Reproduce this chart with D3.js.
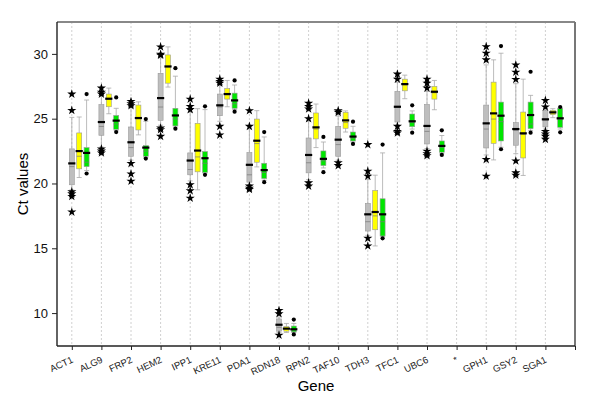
<!DOCTYPE html>
<html>
<head>
<meta charset="utf-8">
<script src="https://cdn.jsdelivr.net/npm/d3@7"></script>
<style>
  body { margin: 0; background: #fff; }
  text { font-family: "Liberation Sans", Arial, sans-serif; }
</style>
</head>
<body>
<div id="chart"></div>
<script>
// genes on the x axis (last slot is an empty one at the right border)
var genes = ['ACT1','ALG9','FRP2','HEM2','IPP1','KRE11','PDA1','RDN18','RPN2','TAF10','TDH3','TFC1','UBC6','*','GPH1','GSY2','SGA1',''];
var yTicks = [10, 15, 20, 25, 30];

// [lower whisker, q1, median, q3, upper whisker] per gene
var greyBoxes = [
  [19.5,19.9,21.55,22.67,25.1],[22.8,23.72,24.74,26.08,26.8],[21.8,22.1,23.18,24.36,25.9],[24.5,24.87,26.59,28.5,29.7],
  [20.2,20.67,21.77,22.36,25.5],[24.8,25.23,26.03,26.9,27.6],[19.9,20.1,21.44,22.38,24.2],[8.5,8.6,9.1,9.55,9.7],
  [20.3,20.82,22.2,23.51,24.8],[21.8,22.1,23.38,24.41,25.2],[16.0,16.33,17.62,18.46,20.3],[24.5,24.74,25.92,27.1,27.8],
  [22.7,23.05,24.44,26.1,27.1],null,[22.2,22.74,24.64,26.05,29.15],[22.3,22.95,24.2,24.69,27.7],[24.2,24.36,24.95,25.62,25.8],null];
var greyThin = [21.3,24.4,22.77,25.9,21.08,25.9,20.67,8.9,21.6,23.0,17.05,25.9,24.02,null,24.2,24.1,24.9,null];
var greyOutliers = [
  [26.9,25.64,19.36,19.2,19.0,17.8],[27.36,27.05,26.9,22.67,22.5,22.36],[26.33,26.15,26.0,21.54,20.74,20.18],[30.54,29.97,29.9,24.28,24.15,23.64],
  [26.51,25.95,25.7,19.9,19.44,18.87],[28.05,27.87,27.74,24.41,23.74],[25.62,24.41,19.8,19.64,19.54],[10.2,9.95,8.3],
  [26.2,25.95,25.75,25.0,20.05,19.8],[25.62,25.49,21.6,21.38],[23.0,20.95,20.56,15.77,15.18],[28.44,28.05,24.41,24.02,23.9],
  [28.05,27.74,27.36,22.49,22.3,22.15],[],[30.56,30.05,29.54,21.85,20.56],[29.15,28.59,28.03,21.74,20.82,20.64],[26.41,25.9,24.02,23.82,23.64,23.41],[]];

var yellowBoxes = [
  [20.46,21.13,22.5,23.9,25.13],[25.38,25.92,26.54,26.9,27.36],[23.75,24.13,25.05,26.05,26.3],[27.44,27.74,29.03,29.92,30.54],
  [19.51,20.9,22.54,24.64,25.77],[25.92,26.51,26.9,27.33,27.95],[21.28,21.64,23.3,24.97,25.62],[8.5,8.6,8.8,8.95,9.2],
  [22.77,23.44,24.33,25.44,26.13],[23.97,24.26,24.87,25.49,25.6],[15.18,16.43,17.8,19.46,20.64],[26.54,27.15,27.67,28.05,28.36],
  [25.69,26.51,27.08,27.49,27.95],null,[21.82,23.1,25.41,27.82,29.54],[20.62,21.97,23.87,25.51,28.05],[25.08,25.31,25.49,25.64,25.77],null];
var yellowThin = [22.1,26.5,25.0,29.0,22.05,26.85,23.08,8.8,24.2,24.7,17.5,27.6,27.0,null,24.97,23.8,25.45,null];

var greenBoxes = [
  [21.0,21.3,22.36,22.77,26.44],[24.1,24.18,24.85,25.25,25.8],[22.0,22.1,22.77,22.92,24.8],[24.35,24.44,25.25,25.8,28.28],
  [20.8,20.85,21.95,22.46,25.7],[25.7,25.8,26.41,26.97,27.6],[20.25,20.38,21.03,21.56,23.59],[8.5,8.55,8.75,9.0,9.2],
  [21.2,21.38,21.9,22.51,23.2],[23.2,23.28,23.62,23.97,24.41],[15.9,15.95,17.62,18.82,22.36],[24.2,24.38,24.8,25.36,25.6],
  [22.3,22.41,22.9,23.28,23.7],null,[22.8,23.28,25.23,26.28,30.05],[24.1,24.23,25.28,26.28,26.8],[24.2,24.33,25.03,25.8,25.85],null];
var greenThin = [21.64,24.59,22.5,24.97,21.56,26.15,20.85,8.7,21.75,23.5,17.05,24.7,22.8,null,24.77,24.59,24.95,null];
var greenOutliers = [
  [26.9,20.77],[26.64,23.97],[24.97,21.92],[28.9,24.23],[25.95,20.67],[27.95,25.54],[23.97,20.1],[9.5,8.35],
  [23.59,20.87],[24.77,23.05],[23.0,15.77],[26.03,23.92],[24.1,22.2],[],[30.6,22.64],[28.62,23.92],[25.9,23.95],[]];

var width = 600, height = 402;
var pLeft = 57, pRight = 575, pTop = 22, pBottom = 346;

var svg = d3.select('#chart').append('svg')
  .attr('width', width)
  .attr('height', height);

var step = (pRight - pLeft) / (genes.length - 0.5);
var x = d3.scalePoint()
  .domain(genes)
  .range([pLeft + step / 2, pRight]);

var y = d3.scaleLinear()
  .domain([7.46, 32.46])
  .range([pBottom, pTop]);

// dotted vertical guides
svg.append('g')
  .selectAll('line')
  .data(genes)
  .enter().append('line')
  .attr('x1', d => x(d)).attr('x2', d => x(d))
  .attr('y1', pTop).attr('y2', pBottom)
  .attr('stroke', '#d0d0d0')
  .attr('stroke-dasharray', '2,2');

var series = [
  {boxes: greyBoxes, thin: greyThin, out: greyOutliers, fill: '#bebebe', offset: 0, mark: 'star'},
  {boxes: yellowBoxes, thin: yellowThin, out: null, fill: '#ffff00', offset: 7.4, mark: 'dot'},
  {boxes: greenBoxes, thin: greenThin, out: greenOutliers, fill: '#00e600', offset: 14.8, mark: 'dot'}
];

var bw = 5;
var star = d3.symbol().type(d3.symbolStar).size(26);

series.forEach(function(s) {
  var g = svg.append('g');
  genes.forEach(function(gene, i) {
    var b = s.boxes[i];
    if (!b) return;
    var cx = x(gene) + s.offset;
    // whiskers
    g.append('line').attr('x1', cx).attr('x2', cx).attr('y1', y(b[3])).attr('y2', y(b[4]))
      .attr('stroke', '#aaa').attr('stroke-width', 0.8);
    g.append('line').attr('x1', cx).attr('x2', cx).attr('y1', y(b[1])).attr('y2', y(b[0]))
      .attr('stroke', '#aaa').attr('stroke-width', 0.8);
    [b[0], b[4]].forEach(function(v) {
      g.append('line').attr('x1', cx - 2.5).attr('x2', cx + 2.5).attr('y1', y(v)).attr('y2', y(v))
        .attr('stroke', '#aaa').attr('stroke-width', 0.8);
    });
    g.append('rect')
      .attr('x', cx - bw / 2).attr('width', bw)
      .attr('y', y(b[3])).attr('height', y(b[1]) - y(b[3]))
      .attr('fill', s.fill).attr('stroke', '#999').attr('stroke-width', 0.6);
    if (s.thin[i] != null) {
      g.append('line').attr('x1', cx - bw / 2).attr('x2', cx + bw / 2)
        .attr('y1', y(s.thin[i])).attr('y2', y(s.thin[i]))
        .attr('stroke', '#777').attr('stroke-width', 0.7);
    }
    g.append('line').attr('x1', cx - 3.6).attr('x2', cx + 3.6)
      .attr('y1', y(b[2])).attr('y2', y(b[2]))
      .attr('stroke', '#000').attr('stroke-width', 2.2);
    if (s.out) {
      s.out[i].forEach(function(v) {
        if (s.mark == 'star') {
          g.append('path').attr('d', star)
            .attr('transform', 'translate(' + cx + ',' + y(v) + ')')
            .attr('fill', '#000');
        } else {
          g.append('circle').attr('cx', cx).attr('cy', y(v)).attr('r', 2.1).attr('fill', '#000');
        }
      });
    }
  });
});

// frame
svg.append('line').attr('x1', pLeft).attr('x2', pRight).attr('y1', pTop).attr('y2', pTop)
  .attr('stroke', '#888').attr('stroke-width', 2);
svg.append('line').attr('x1', pRight).attr('x2', pRight).attr('y1', pTop).attr('y2', pBottom)
  .attr('stroke', '#777').attr('stroke-width', 2);

var xAxis = svg.append('g')
  .attr('transform', 'translate(0,' + pBottom + ')')
  .call(d3.axisBottom(x).tickSize(4).tickSizeOuter(0).tickFormat(''));
xAxis.select('.domain').attr('d', 'M' + pLeft + ',0H' + pRight).attr('stroke', '#222').attr('stroke-width', 1.4);
xAxis.selectAll('.tick line').attr('stroke', '#222');

svg.append('g')
  .selectAll('text')
  .data(genes)
  .enter().append('text')
  .attr('transform', d => 'translate(' + (x(d) + 2) + ',' + (pBottom + 16) + ') rotate(-25)')
  .attr('text-anchor', 'end')
  .attr('font-size', 9.5)
  .attr('fill', '#222')
  .text(d => d);

var yAxis = svg.append('g')
  .attr('transform', 'translate(' + pLeft + ',0)')
  .call(d3.axisLeft(y).tickValues(yTicks).tickSize(5).tickSizeOuter(0).tickPadding(4));
yAxis.select('.domain').attr('d', 'M0,' + pTop + 'V' + pBottom).attr('stroke', '#222').attr('stroke-width', 1.4);
yAxis.selectAll('.tick line').attr('stroke', '#222');
yAxis.selectAll('.tick text').attr('font-size', 13).attr('fill', '#111')
  .style('font-family', '"Liberation Sans", Arial, sans-serif');

svg.append('text')
  .attr('transform', 'translate(28,' + ((pTop + pBottom) / 2) + ') rotate(-90)')
  .attr('text-anchor', 'middle')
  .attr('font-size', 15)
  .text('Ct values');

svg.append('text')
  .attr('x', (pLeft + pRight) / 2)
  .attr('y', 391)
  .attr('text-anchor', 'middle')
  .attr('font-size', 15)
  .text('Gene');
</script>
</body>
</html>
